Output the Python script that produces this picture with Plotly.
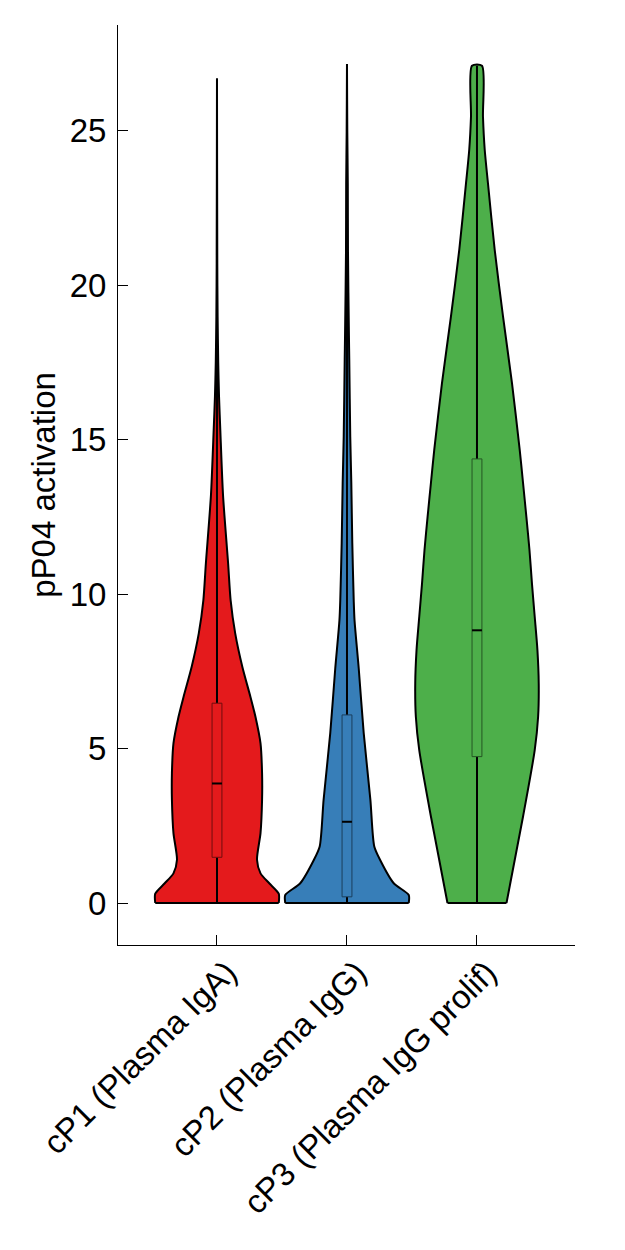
import plotly.graph_objects as go

# ---------------- data ----------------
categories = ["cP1 (Plasma IgA)", "cP2 (Plasma IgG)", "cP3 (Plasma IgG prolif)"]
colors = ["#E41A1C", "#377EB8", "#4DAF4A"]

# violin outlines: activation value levels and relative density (1 = widest)
cp1_levels = [0, 0.3, 0.63, 0.96, 1.4, 2.26, 3.34, 4.2, 5.17, 6.03, 6.68, 7.65, 8.73, 9.8, 11.0, 13.2, 15.3, 16.4, 17.5, 19.0, 20.7, 26.7]
cp1_density = [1.0, 1.0, 0.85, 0.705, 0.648, 0.705, 0.73, 0.73, 0.705, 0.623, 0.541, 0.41, 0.295, 0.221, 0.18, 0.098, 0.054, 0.033, 0.02, 0.01, 0.005, 0.0]

cp2_levels = [0, 0.26, 0.64, 1.4, 1.83, 3.34, 5.5, 7.6, 9.16, 9.8, 11.65, 13.6, 15.1, 17.6, 18.3, 21.1, 23.3, 25.0, 27.17]
cp2_density = [1.0, 1.0, 0.757, 0.535, 0.442, 0.379, 0.271, 0.19, 0.122, 0.109, 0.086, 0.07, 0.053, 0.037, 0.032, 0.016, 0.013, 0.005, 0.0]

cp3_levels = [0, 2.8, 4.95, 6.03, 7.11, 8.19, 9.27, 10.35, 11.43, 12.5, 13.6, 14.67, 16.83, 19.0, 21.15, 23.3, 24.4, 25.46, 27.11]
cp3_density = [0.478, 0.746, 0.935, 0.99, 1.0, 0.979, 0.935, 0.89, 0.85, 0.80, 0.746, 0.692, 0.567, 0.421, 0.287, 0.178, 0.125, 0.097, 0.081]

# box statistics: min, q1, median, q3, max
mins = [0, 0, 0]
q1s = [1.48, 0.2, 4.74]
medians = [3.87, 2.63, 8.83]
q3s = [6.47, 6.09, 14.38]
maxs = [26.7, 27.17, 27.11]

y_ticks = [0, 5, 10, 15, 20, 25]
y_title = "pP04 activation"

# ---------------- styling ----------------
VIOLIN_HALF = 0.475   # max half width in category units
BOX_HALF = 0.038
FONT = "Liberation Sans, Arial, Helvetica, sans-serif"
FS = 33
SMOOTH = [0.7, 0.7, 0.7]

levels = [cp1_levels, cp2_levels, cp3_levels]
densities = [cp1_density, cp2_density, cp3_density]

def darker(hex_color, f=0.5):
    h = hex_color.lstrip("#")
    r, g, b = (int(h[i:i + 2], 16) for i in (0, 2, 4))
    return f"rgb({int(r*f)},{int(g*f)},{int(b*f)})"

fig = go.Figure()
for i, (lv, dn) in enumerate(zip(levels, densities)):
    # open outline: up the right side, down the left side; fill closes along the bottom
    xs = [i + d * VIOLIN_HALF for d in dn] + [i - d * VIOLIN_HALF for d in reversed(dn)]
    ys = list(lv) + list(reversed(lv))
    fig.add_trace(go.Scatter(
        x=xs, y=ys, mode="lines", fill="toself", fillcolor=colors[i],
        line=dict(color="black", width=2, shape="spline", smoothing=SMOOTH[i]),
        hoverinfo="skip", showlegend=False))
    # flat bottom edge
    fig.add_trace(go.Scatter(
        x=[i - dn[0] * VIOLIN_HALF, i + dn[0] * VIOLIN_HALF], y=[lv[0], lv[0]],
        mode="lines", line=dict(color="black", width=2),
        hoverinfo="skip", showlegend=False))
    # whiskers
    fig.add_trace(go.Scatter(
        x=[i, i, None, i, i], y=[mins[i], q1s[i], None, q3s[i], maxs[i]],
        mode="lines", line=dict(color="black", width=2),
        hoverinfo="skip", showlegend=False))
    # box
    fig.add_trace(go.Scatter(
        x=[i - BOX_HALF, i + BOX_HALF, i + BOX_HALF, i - BOX_HALF, i - BOX_HALF],
        y=[q1s[i], q1s[i], q3s[i], q3s[i], q1s[i]],
        mode="lines", fill="toself", fillcolor=colors[i],
        line=dict(color=darker(colors[i]), width=1),
        hoverinfo="skip", showlegend=False))
    # median
    fig.add_trace(go.Scatter(
        x=[i - BOX_HALF, i + BOX_HALF], y=[medians[i], medians[i]],
        mode="lines", line=dict(color="black", width=2),
        hoverinfo="skip", showlegend=False))

fig.update_layout(
    width=625, height=1250,
    margin=dict(l=110, r=58, t=17, b=313),
    plot_bgcolor="white", paper_bgcolor="white",
    font=dict(family=FONT, size=FS, color="black"),
    showlegend=False,
)
fig.update_xaxes(
    range=[-0.7615, 2.754], tickmode="array", tickvals=[0, 1, 2], ticktext=categories,
    tickangle=-45, ticks="inside", ticklen=10, tickcolor="black", tickwidth=1,
    showline=True, linecolor="black", linewidth=1, showgrid=False, zeroline=False,
    tickfont=dict(size=FS), automargin=False, ticklabelshift=10, ticklabelstandoff=-6,
)
fig.update_yaxes(
    range=[-1.36, 28.43], tickmode="array", tickvals=y_ticks, ticktext=[str(t) for t in y_ticks],
    ticks="inside", ticklen=10, tickcolor="black", tickwidth=1,
    showline=True, linecolor="black", linewidth=1, showgrid=False, zeroline=False,
    tickfont=dict(size=FS), ticklabelstandoff=4, automargin=False,
    title=dict(text=y_title, font=dict(size=FS), standoff=4),
)

fig.write_html("out.html")
